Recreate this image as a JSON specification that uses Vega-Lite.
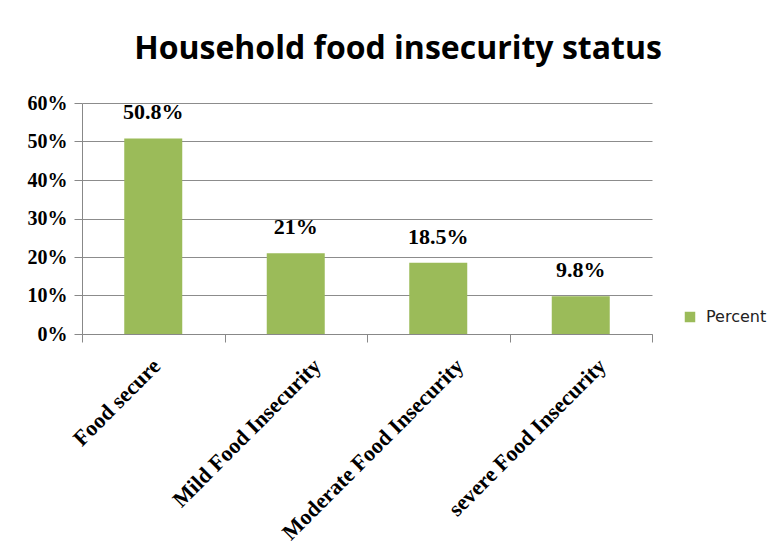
{
  "$schema": "https://vega.github.io/schema/vega-lite/v6.json",
  "width": 570,
  "height": 231,
  "autosize": {"type": "none"},
  "padding": {"left": 82, "top": 103, "right": 127, "bottom": 224},
  "background": "white",
  "title": {
    "text": "Household food insecurity status",
    "font": "Open Sans",
    "fontSize": 32,
    "fontWeight": "bold",
    "color": "#000000",
    "dx": 31,
    "offset": 27
  },
  "data": {
    "values": [
      {"category": "Food secure", "percent": 0.508, "label": "50.8%", "series": "Percent"},
      {"category": "Mild Food Insecurity", "percent": 0.21, "label": "21%", "series": "Percent"},
      {"category": "Moderate Food Insecurity", "percent": 0.185, "label": "18.5%", "series": "Percent"},
      {"category": "severe Food Insecurity", "percent": 0.098, "label": "9.8%", "series": "Percent"}
    ]
  },
  "config": {
    "view": {"stroke": null}
  },
  "encoding": {
    "x": {
      "field": "category",
      "type": "nominal",
      "sort": null,
      "scale": {"paddingInner": 0, "paddingOuter": 0},
      "axis": {
        "title": null,
        "orient": "bottom",
        "tickBand": "extent",
        "ticks": true,
        "tickSize": 8,
        "tickColor": "#888888",
        "domain": true,
        "domainColor": "#888888",
        "grid": false,
        "labelAngle": -45,
        "labelAlign": "right",
        "labelBaseline": "top",
        "labelPadding": 13,
        "labelOffset": {"condition": {"test": "datum.value === 'Food secure'", "value": -4}, "value": 14},
        "labelFont": "Liberation Serif",
        "labelFontWeight": "bold",
        "labelFontSize": 22,
        "labelColor": "#000000",
        "labelLimit": 400
      }
    },
    "y": {
      "field": "percent",
      "type": "quantitative",
      "scale": {"domain": [0, 0.6]},
      "axis": {
        "title": null,
        "values": [0, 0.1, 0.2, 0.3, 0.4, 0.5, 0.6],
        "format": ".0%",
        "labelOverlap": false,
        "grid": true,
        "gridColor": "#8c8c8c",
        "gridOpacity": 1,
        "domainColor": "#888888",
        "tickColor": "#888888",
        "tickSize": 8,
        "labelPadding": 7,
        "labelFont": "Liberation Serif",
        "labelFontWeight": "bold",
        "labelFontSize": 20,
        "labelColor": "#000000"
      }
    }
  },
  "layer": [
    {
      "mark": {"type": "bar", "color": "#9BBB59", "width": {"band": 0.407}},
      "encoding": {
        "color": {
          "field": "series",
          "type": "nominal",
          "scale": {"range": ["#9BBB59"]},
          "legend": {
            "title": null,
            "orient": "none",
            "legendX": 600,
            "legendY": 206,
            "symbolType": "square",
            "symbolSize": 110,
            "symbolStrokeWidth": 0,
            "labelFont": "DejaVu Sans",
            "labelFontSize": 16,
            "labelColor": "#222222",
            "labelOffset": 8
          }
        }
      }
    },
    {
      "mark": {
        "type": "text",
        "dy": -26,
        "font": "Liberation Serif",
        "fontWeight": "bold",
        "fontSize": 22,
        "color": "#000000",
        "baseline": "middle"
      },
      "encoding": {
        "text": {"field": "label"}
      }
    }
  ]
}
